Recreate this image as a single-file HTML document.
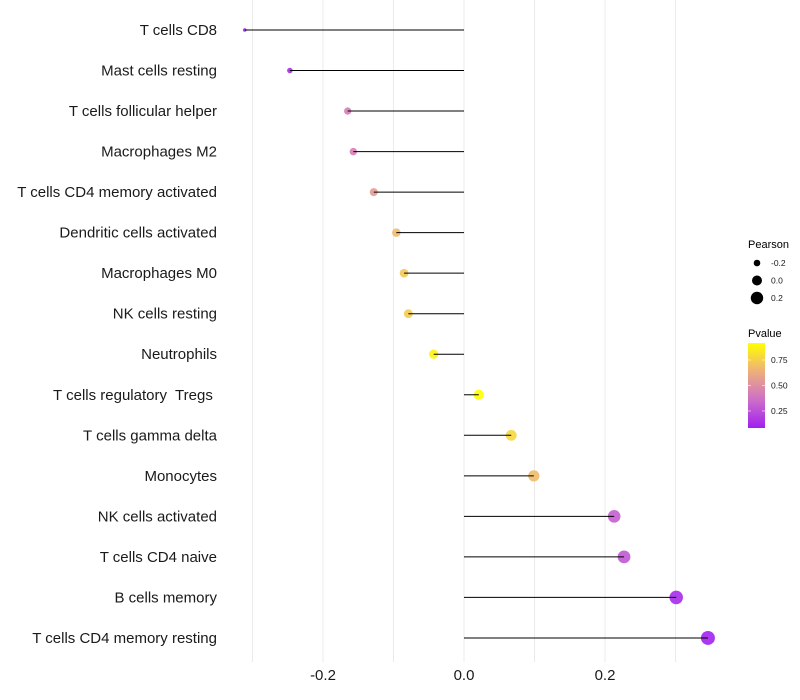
<!DOCTYPE html>
<html><head><meta charset="utf-8"><style>
body{margin:0;background:#fff;}
svg{display:block;font-family:"Liberation Sans",sans-serif;}
text{white-space:pre;}
</style></head><body>
<svg id="chart" width="800" height="700"></svg>
<script>
const categories=["T cells CD8","Mast cells resting","T cells follicular helper","Macrophages M2","T cells CD4 memory activated","Dendritic cells activated","Macrophages M0","NK cells resting","Neutrophils","T cells regulatory  Tregs ","T cells gamma delta","Monocytes","NK cells activated","T cells CD4 naive","B cells memory","T cells CD4 memory resting"];
const pearson=[-0.311,-0.247,-0.165,-0.157,-0.128,-0.096,-0.085,-0.079,-0.043,0.021,0.067,0.099,0.213,0.227,0.301,0.346];
const pvalue=[0.1,0.12,0.42,0.44,0.55,0.68,0.72,0.74,0.88,0.95,0.78,0.68,0.3,0.28,0.12,0.09];
const xTicks=[-0.2,0,0.2];
const xTickLabels=["-0.2","0.0","0.2"];
const gridVals=[-0.3,-0.2,-0.1,0,0.1,0.2,0.3];
const legendSizes=[-0.2,0,0.2];
const legendSizeLabels=["-0.2","0.0","0.2"];
const pTicks=[0.25,0.5,0.75];
const pTickLabels=["0.25","0.50","0.75"];

const NS="http://www.w3.org/2000/svg";
const svg=document.getElementById('chart');
function el(tag,attrs,parent){const e=document.createElementNS(NS,tag);for(const k in attrs)e.setAttribute(k,attrs[k]);(parent||svg).appendChild(e);return e;}
const xs=v=>464+v*705;
const ys=i=>30+i*40.53;
const rs=p=>Math.sqrt(Math.max(1.5,24.9+69.7*p));
const stops=[[0,[160,32,240]],[0.33,[205,110,200]],[0.67,[238,176,122]],[1,[255,255,0]]];
function pcol(p){let t=(p-0.08)/(0.92-0.08);t=Math.max(0,Math.min(1,t));
for(let i=0;i<stops.length-1;i++){const a=stops[i],b=stops[i+1];if(t<=b[0]){const f=(t-a[0])/(b[0]-a[0]);const c=a[1].map((v,j)=>Math.round(v+(b[1][j]-v)*f));return `rgb(${c.join(',')})`;}}return 'rgb(255,255,0)';}

gridVals.forEach(v=>{const g=el('line',{x1:xs(v),x2:xs(v),y1:0,y2:662,stroke:'#ebebeb','stroke-width':1});

});

categories.forEach((c,i)=>{
const y=ys(i);
const t=el('text',{x:217,y:y+5,'text-anchor':'end','font-size':15,fill:'#1a1a1a'});t.textContent=c;


const pt=el('circle',{cx:xs(pearson[i]),cy:y,r:rs(pearson[i]),fill:pcol(pvalue[i]),'fill-opacity':0.9});


const ln=el('line',{x1:xs(0),x2:xs(pearson[i]),y1:y,y2:y,stroke:'#000','stroke-width':1});


});

xTicks.forEach((v,i)=>{const t=el('text',{x:xs(v),y:680,'text-anchor':'middle','font-size':15,fill:'#1a1a1a'});t.textContent=xTickLabels[i];

});

const lt=el('text',{x:748,y:248,'font-size':11,fill:'#000'});lt.textContent='Pearson';


legendSizes.forEach((v,i)=>{const y=263+i*17.5;
const c=el('circle',{cx:757,cy:y,r:rs(v),fill:'#000'});


const t=el('text',{x:771,y:y+3,'font-size':8.5,fill:'#1a1a1a'});t.textContent=legendSizeLabels[i];

});

const pt2=el('text',{x:748,y:337,'font-size':11,fill:'#000'});pt2.textContent='Pvalue';


const defs=el('defs',{});const lg=el('linearGradient',{id:'pg',x1:0,y1:1,x2:0,y2:0},defs);
stops.forEach(s=>el('stop',{offset:s[0],'stop-color':`rgb(${s[1].join(',')})`},lg));
const bar=el('rect',{x:748,y:343,width:17,height:85,fill:'url(#pg)'});


const py=v=>428-(v-0.083)*102;
pTicks.forEach((v,i)=>{
el('line',{x1:748,x2:751,y1:py(v),y2:py(v),stroke:'#fff','stroke-opacity':0.6});
el('line',{x1:762,x2:765,y1:py(v),y2:py(v),stroke:'#fff','stroke-opacity':0.6});
const t=el('text',{x:771,y:py(v)+3,'font-size':8.5,fill:'#1a1a1a'});t.textContent=pTickLabels[i];

});
</script>
</body></html>
